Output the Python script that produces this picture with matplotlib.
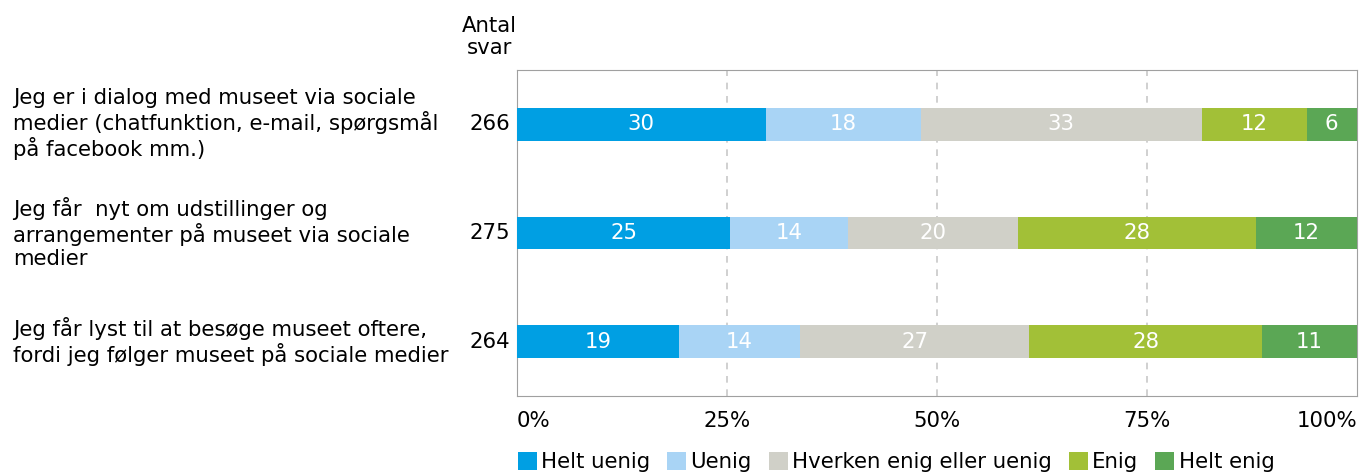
import numpy as np
import matplotlib
matplotlib.use("Agg")
import matplotlib.pyplot as plt
from matplotlib.patches import Patch
import matplotlib.transforms as mtransforms

# Data
questions = [
    "Jeg er i dialog med museet via sociale\nmedier (chatfunktion, e-mail, spørgsmål\npå facebook mm.)",
    "Jeg får  nyt om udstillinger og\narrangementer på museet via sociale\nmedier",
    "Jeg får lyst til at besøge museet oftere,\nfordi jeg følger museet på sociale medier",
]
n_answers = [266, 275, 264]
categories = ["Helt uenig", "Uenig", "Hverken enig eller uenig", "Enig", "Helt enig"]
# segment widths (percent), as measured from bar lengths
shares = [
    [29.6, 18.5, 33.4, 12.5, 6.0],
    [25.4, 14.0, 20.2, 28.4, 12.0],
    [19.3, 14.4, 27.3, 27.7, 11.3],
]
# printed labels
labels = [
    [30, 18, 33, 12, 6],
    [25, 14, 20, 28, 12],
    [19, 14, 27, 28, 11],
]
colors = ["#009fe3", "#a9d4f5", "#d0d0c8", "#a2c037", "#5ba755"]
xticks = [0, 25, 50, 75, 100]
xticklabels = ["0%", "25%", "50%", "75%", "100%"]

W, H = 1359, 473
fig = plt.figure(figsize=(W / 100, H / 100), dpi=100)
ax = fig.add_axes([517 / W, (H - 396) / H, 840 / W, 326 / H])

fs = 15.3
y = np.arange(len(questions))
left = np.zeros(len(questions))
for j, cat in enumerate(categories):
    vals = np.array([row[j] for row in shares])
    ax.barh(y, vals, left=left, height=0.3, color=colors[j], zorder=3)
    for i in range(len(questions)):
        ax.text(left[i] + vals[i] / 2, y[i], str(labels[i][j]), ha="center", va="center",
                color="white", fontsize=fs, zorder=4)
    left += vals

ax.set_xlim(0, 100)
ax.set_ylim(2.5, -0.5)
ax.set_xticks(xticks)
tl = ax.set_xticklabels(xticklabels, fontsize=fs)
tl[0].set_ha("left")
tl[-1].set_ha("right")
ax.tick_params(axis="x", length=0, pad=11)
ax.set_yticks([])
for s in ax.spines.values():
    s.set_color("#a0a0a0")
for xv in [25, 50, 75]:
    ax.axvline(xv, color="#c8c8c8", linestyle=(0, (4, 4)), linewidth=1.2, zorder=1)

# question labels and counts
trans = mtransforms.blended_transform_factory(fig.transFigure, ax.transData)
for i, q in enumerate(questions):
    ax.text(13 / W, y[i], q, transform=trans, ha="left", va="center", fontsize=fs,
            linespacing=1.15)
    ax.text(510 / W, y[i], str(n_answers[i]), transform=trans, ha="right", va="center",
            fontsize=fs)
fig.text(489 / W, 1 - 37 / H, "Antal\nsvar", ha="center", va="center", fontsize=fs,
         linespacing=1.15)

handles = [Patch(facecolor=c, label=l) for c, l in zip(colors, categories)]
fig.legend(handles=handles, loc="center", bbox_to_anchor=(896 / W, 11 / H), ncol=5,
           frameon=False, fontsize=fs, handlelength=0.9, handleheight=0.9,
           handletextpad=0.2, columnspacing=0.8, borderpad=0)

fig.savefig("out.png", dpi=100)
